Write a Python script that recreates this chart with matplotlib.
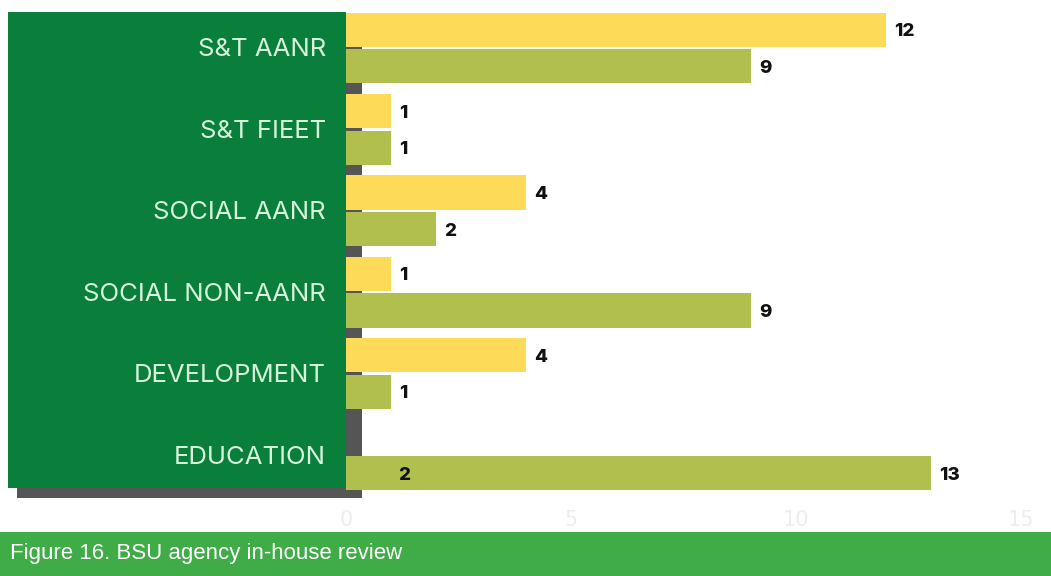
import matplotlib.pyplot as plt
import matplotlib.patches as patches
import numpy as np

categories = ['S&T AANR', 'S&T FIEET', 'SOCIAL AANR', 'SOCIAL NON-AANR', 'DEVELOPMENT', 'EDUCATION']
yellow_vals = [12, 1, 4, 1, 4, 2]
green_vals = [9, 1, 2, 9, 1, 13]
xticks = [0, 5, 10, 15]
caption = 'Figure 16. BSU agency in-house review'

YELLOW = '#fddb58'
OLIVE = '#b1bf4f'
PANEL = '#0a7f3b'
SHADOW = '#555555'
BAND = '#3fac48'

W, H = 1051, 576
fig = plt.figure(figsize=(W / 100, H / 100), dpi=100)
fig.patch.set_facecolor('white')

# background layer in pixel units (panel, shadow, caption band)
bg = fig.add_axes([0, 0, 1, 1])
bg.set_xlim(0, W)
bg.set_ylim(H, 0)
bg.axis('off')
bg.add_patch(patches.Rectangle((17, 22), 345, 476, color=SHADOW, lw=0))
bg.add_patch(patches.Rectangle((8, 12), 338, 476, color=PANEL, lw=0))
bg.add_patch(patches.Rectangle((0, 532), W, 44, color=BAND, lw=0))
bg.text(10, 554, caption, color='white', fontsize=16, family='Liberation Sans',
        va='center', ha='left')

# bar chart
pitch = 81.4
top_c = 48
ax_top, ax_bot = 0, 506
ax = fig.add_axes([346 / W, 1 - ax_bot / H, 675 / W, (ax_bot - ax_top) / H])
ax.patch.set_alpha(0)
ax.set_xlim(0, 15)
ax.set_ylim((ax_bot - top_c) / pitch, (ax_top - top_c) / pitch)
y = np.arange(len(categories))
h = 0.42
off = 0.225
ax.barh(y[:-1] - off, yellow_vals[:-1], height=h, color=YELLOW, zorder=3)
ax.barh(y + off, green_vals, height=h, color=OLIVE, zorder=3)

lab = dict(va='center', ha='left', fontsize=13.5, fontweight='heavy', family='Inter',
           color='#111111', textcoords='offset pixels')
for i, v in enumerate(yellow_vals[:-1]):
    ax.annotate(str(v), (v, i - off), xytext=(8, -2), **lab)
for i, v in enumerate(green_vals):
    ax.annotate(str(v), (v, i + off), xytext=(8, -2), **lab)
# education yellow label sits on the green bar in the source
ax.annotate(str(yellow_vals[-1]), (1, y[-1] + off), xytext=(7, -2), zorder=5, **lab)

for i, c in enumerate(categories):
    ax.annotate(c, (0, i), xytext=(-20, -2), textcoords='offset pixels', ha='right', va='center',
                fontsize=18.5, family='Inter', color='#d6f3dc', annotation_clip=False)

ax.set_yticks([])
ax.set_xticks(xticks)
ax.tick_params(axis='x', length=0, pad=3, labelsize=15, labelcolor='#eeeeee')
for s in ax.spines.values():
    s.set_visible(False)

fig.savefig('out.png', dpi=100)
